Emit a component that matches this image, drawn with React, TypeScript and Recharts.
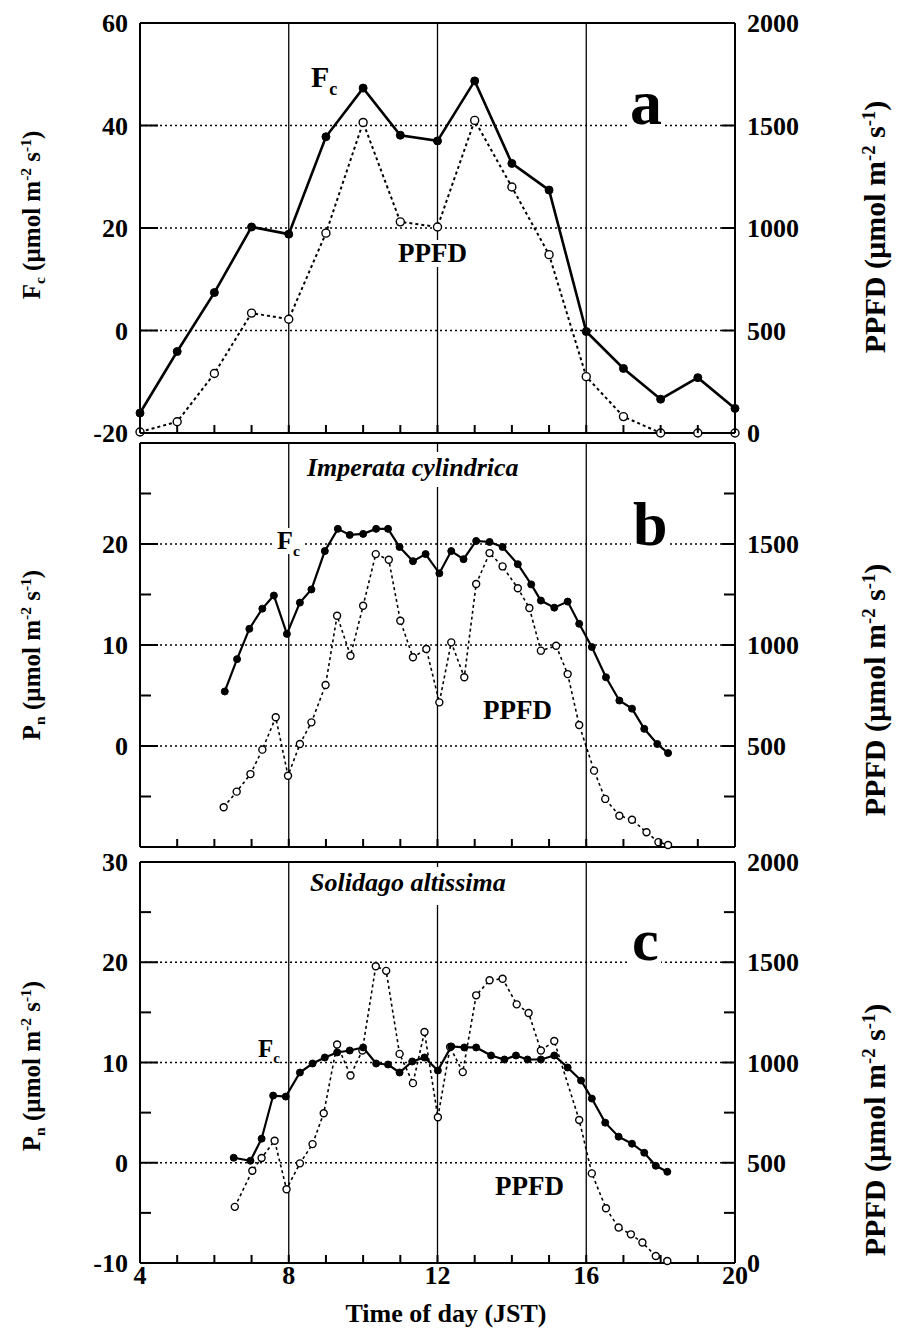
import { LineChart, Line, XAxis, YAxis, ReferenceLine } from 'recharts'

const W = 905
const H = 1334
const FONT = '"Liberation Serif", "Times New Roman", serif'

const HOURS = [4, 5, 6, 7, 8, 9, 10, 11, 12, 13, 14, 15, 16, 17, 18, 19, 20]
const HOUR_LABELS = [4, 8, 12, 16, 20]
const GRID_HOURS = [8, 12, 16]

// (a) canopy flux, hourly
const timeA = [4, 5, 6, 7, 8, 9, 10, 11, 12, 13, 14, 15, 16, 17, 18, 19, 20]
const fcA = [-16.1, -4.1, 7.4, 20.2, 18.8, 37.8, 47.3, 38.1, 37.0, 48.7, 32.6, 27.4, -0.2, -7.4, -13.4, -9.2, -15.2]
const ppfdA = [5, 55, 290, 585, 555, 975, 1515, 1030, 1005, 1525, 1200, 870, 275, 80, 0, 0, 0]

// (b) Imperata cylindrica
const timePnB = [6.28, 6.61, 6.94, 7.29, 7.6, 7.95, 8.3, 8.61, 8.97, 9.32, 9.64, 10.0, 10.35, 10.67, 10.98, 11.34, 11.68, 12.05, 12.37, 12.7, 13.04, 13.4, 13.75, 14.16, 14.52, 14.78, 15.14, 15.5, 15.81, 16.15, 16.53, 16.89, 17.23, 17.56, 17.91, 18.2]
const pnB = [5.4, 8.6, 11.6, 13.6, 14.9, 11.1, 14.2, 15.5, 19.3, 21.5, 20.9, 21.0, 21.5, 21.5, 19.7, 18.3, 19.0, 17.1, 19.3, 18.5, 20.3, 20.2, 19.7, 18.0, 16.0, 14.4, 13.7, 14.3, 12.1, 9.8, 6.8, 4.5, 3.7, 1.7, 0.2, -0.7]
const timePpfdB = [6.25, 6.6, 6.97, 7.29, 7.65, 7.98, 8.3, 8.61, 8.99, 9.3, 9.66, 10.0, 10.34, 10.69, 11.0, 11.34, 11.7, 12.05, 12.37, 12.72, 13.04, 13.4, 13.75, 14.16, 14.47, 14.78, 15.19, 15.5, 15.81, 16.21, 16.51, 16.89, 17.23, 17.62, 17.94, 18.2]
const ppfdB = [197, 274, 361, 482, 642, 353, 510, 617, 802, 1145, 947, 1194, 1450, 1422, 1120, 939, 980, 716, 1013, 840, 1302, 1455, 1389, 1281, 1183, 972, 996, 856, 604, 378, 238, 155, 135, 73, 24, 10]

// (c) Solidago altissima
const timePnC = [6.52, 6.97, 7.27, 7.58, 7.92, 8.3, 8.64, 8.97, 9.3, 9.64, 10.0, 10.35, 10.67, 10.98, 11.32, 11.65, 12.01, 12.37, 12.72, 13.04, 13.44, 13.8, 14.11, 14.42, 14.78, 15.14, 15.5, 15.86, 16.15, 16.51, 16.87, 17.23, 17.56, 17.87, 18.18]
const pnC = [0.5, 0.2, 2.4, 6.7, 6.6, 9.0, 9.9, 10.5, 11.0, 11.2, 11.5, 9.9, 9.8, 9.0, 10.1, 10.5, 9.2, 11.6, 11.5, 11.5, 10.7, 10.3, 10.7, 10.3, 10.3, 10.7, 9.5, 8.2, 6.4, 4.0, 2.6, 1.9, 1.0, -0.3, -0.9]
const timePpfdC = [6.55, 7.02, 7.27, 7.62, 7.94, 8.3, 8.64, 8.94, 9.3, 9.66, 9.98, 10.34, 10.62, 10.98, 11.34, 11.65, 12.01, 12.34, 12.68, 13.04, 13.4, 13.75, 14.13, 14.45, 14.78, 15.14, 15.81, 16.15, 16.53, 16.87, 17.2, 17.51, 17.87, 18.18]
const ppfdC = [280, 460, 524, 610, 368, 497, 593, 747, 1090, 935, 1060, 1480, 1457, 1043, 897, 1152, 727, 1077, 952, 1335, 1410, 1418, 1290, 1247, 1060, 1107, 713, 447, 273, 177, 143, 102, 35, 10]

type Pt = { t: number; v: number }
const zip = (t: number[], v: number[]): Pt[] => t.map((x, i) => ({ t: x, v: v[i] }))

const AXIS = { stroke: '#000', strokeWidth: 2 }

const tickText = {
  fontFamily: FONT,
  fontWeight: 'bold' as const,
  fontSize: 26,
  fill: '#000',
}

const leftTick = (labels: number[]) => (p: any) => {
  const v = p.payload.value
  const major = labels.includes(v)
  return (
    <g>
      <line x1={p.x} x2={p.x + (major ? 18 : 11)} y1={p.y} y2={p.y} stroke="#000" strokeWidth={2} />
      {major && (
        <text x={p.x - 12} y={p.y} dy="0.35em" textAnchor="end" {...tickText}>
          {v}
        </text>
      )}
    </g>
  )
}

const rightTick = (labels: number[]) => (p: any) => {
  const v = p.payload.value
  const major = labels.includes(v)
  return (
    <g>
      <line x1={p.x} x2={p.x - (major ? 13 : 11)} y1={p.y} y2={p.y} stroke="#000" strokeWidth={2} />
      {major && (
        <text x={p.x + 12} y={p.y} dy="0.35em" textAnchor="start" {...tickText}>
          {v}
        </text>
      )}
    </g>
  )
}

const bottomTick = (show: boolean) => (p: any) => {
  const v = p.payload.value
  return (
    <g>
      <line x1={p.x} x2={p.x} y1={p.y} y2={p.y - 8} stroke="#000" strokeWidth={2} />
      {show && HOUR_LABELS.includes(v) && (
        <text x={p.x} y={p.y + 21} textAnchor="middle" {...tickText}>
          {v}
        </text>
      )}
    </g>
  )
}

const topTick = (p: any) => (
  <line x1={p.x} x2={p.x} y1={p.y} y2={p.y + 8} stroke="#000" strokeWidth={2} />
)

interface PanelProps {
  top: number
  bottom: number
  leftDomain: [number, number]
  leftTicks: number[]
  leftLabels: number[]
  leftGrid: number[]
  rightTicks: number[]
  rightLabels: number[]
  fc: Pt[]
  ppfd: Pt[]
  xLabels: boolean
  fcWidth: number
  ppfdWidth: number
  dotR: number
}

function Panel(p: PanelProps) {
  // x axes get a 1px band so that Recharts still draws them
  return (
    <div style={{ position: 'absolute', left: 0, top: 0 }}>
      <LineChart width={W} height={H} margin={{ top: p.top - 1, right: 0, bottom: H - p.bottom - 1, left: 0 }}>
        <XAxis
          dataKey="t"
          type="number"
          domain={[4, 20]}
          ticks={HOURS}
          interval={0}
          height={1}
          tickSize={0}
          tickMargin={0}
          tickLine={false}
          axisLine={AXIS}
          tick={bottomTick(p.xLabels)}
        />
        <XAxis
          xAxisId="top"
          orientation="top"
          dataKey="t"
          type="number"
          domain={[4, 20]}
          ticks={HOURS}
          interval={0}
          height={1}
          tickSize={0}
          tickMargin={0}
          tickLine={false}
          axisLine={AXIS}
          tick={topTick}
        />
        <YAxis
          yAxisId="left"
          domain={p.leftDomain}
          ticks={p.leftTicks}
          interval={0}
          width={140}
          tickSize={0}
          tickMargin={0}
          tickLine={false}
          axisLine={AXIS}
          tick={leftTick(p.leftLabels)}
        />
        <YAxis
          yAxisId="right"
          orientation="right"
          domain={[0, 2000]}
          ticks={p.rightTicks}
          interval={0}
          width={170}
          tickSize={0}
          tickMargin={0}
          tickLine={false}
          axisLine={AXIS}
          tick={rightTick(p.rightLabels)}
        />
        {p.leftGrid.map((v) => (
          <ReferenceLine key={'h' + v} yAxisId="left" y={v} stroke="#000" strokeWidth={1.6} strokeDasharray="2 3" />
        ))}
        {GRID_HOURS.map((v) => (
          <ReferenceLine key={'v' + v} yAxisId="left" x={v} stroke="#000" strokeWidth={1.3} />
        ))}
        <Line
          yAxisId="right"
          data={p.ppfd}
          dataKey="v"
          stroke="#000"
          strokeWidth={p.ppfdWidth}
          strokeDasharray="3 3"
          dot={{ r: p.dotR, fill: '#fff', stroke: '#000', strokeWidth: 1.4, strokeDasharray: 'none' }}
          activeDot={false}
          isAnimationActive={false}
        />
        <Line
          yAxisId="left"
          data={p.fc}
          dataKey="v"
          stroke="#000"
          strokeWidth={p.fcWidth}
          dot={{ r: p.dotR, fill: '#000', stroke: '#000', strokeWidth: 1 }}
          activeDot={false}
          isAnimationActive={false}
        />
      </LineChart>
    </div>
  )
}

const supStyle = { fontSize: '0.62em', position: 'relative' as const, top: '-0.55em' }
const subStyle = { fontSize: '0.62em', position: 'relative' as const, top: '0.35em' }

function AxisTitle({ cx, cy, size, name, sub }: { cx: number; cy: number; size: number; name: string; sub?: string }) {
  return (
    <div
      style={{
        position: 'absolute',
        left: cx,
        top: cy,
        transform: 'translate(-50%, -50%) rotate(-90deg)',
        whiteSpace: 'nowrap',
        fontFamily: FONT,
        fontWeight: 'bold',
        fontSize: size,
        lineHeight: 1,
      }}
    >
      {name}
      {sub && <span style={subStyle}>{sub}</span>} (µmol m<span style={supStyle}>-2</span> s
      <span style={supStyle}>-1</span>)
    </div>
  )
}

function Note({
  left,
  top,
  size,
  italic = false,
  pad = '0 2px',
  children,
}: {
  left: number
  top: number
  size: number
  italic?: boolean
  pad?: string
  children: any
}) {
  return (
    <div
      style={{
        position: 'absolute',
        left,
        top,
        fontFamily: FONT,
        fontWeight: 'bold',
        fontStyle: italic ? 'italic' : 'normal',
        fontSize: size,
        lineHeight: 1,
        background: '#fff',
        padding: pad,
        whiteSpace: 'nowrap',
      }}
    >
      {children}
    </div>
  )
}

const Fc = () => (
  <>
    F<span style={{ fontSize: '0.6em', position: 'relative', top: '0.42em', background: '#fff' }}>c</span>
  </>
)

export default function App() {
  return (
    <div style={{ position: 'absolute', left: 0, top: 0, width: W, height: H, background: '#fff' }}>
      <Panel
        top={23}
        bottom={433}
        leftDomain={[-20, 60]}
        leftTicks={[-20, 0, 20, 40, 60]}
        leftLabels={[-20, 0, 20, 40, 60]}
        leftGrid={[0, 20, 40]}
        rightTicks={[0, 500, 1000, 1500, 2000]}
        rightLabels={[0, 500, 1000, 1500, 2000]}
        fc={zip(timeA, fcA)}
        ppfd={zip(timeA, ppfdA)}
        xLabels={false}
        fcWidth={2.6}
        ppfdWidth={2}
        dotR={4}
      />
      <Panel
        top={443}
        bottom={847}
        leftDomain={[-10, 30]}
        leftTicks={[-5, 0, 5, 10, 15, 20, 25]}
        leftLabels={[0, 10, 20]}
        leftGrid={[0, 10, 20]}
        rightTicks={[250, 500, 750, 1000, 1250, 1500, 1750]}
        rightLabels={[500, 1000, 1500]}
        fc={zip(timePnB, pnB)}
        ppfd={zip(timePpfdB, ppfdB)}
        xLabels={false}
        fcWidth={2.2}
        ppfdWidth={1.6}
        dotR={3.5}
      />
      <Panel
        top={862}
        bottom={1263}
        leftDomain={[-10, 30]}
        leftTicks={[-10, -5, 0, 5, 10, 15, 20, 25, 30]}
        leftLabels={[-10, 0, 10, 20, 30]}
        leftGrid={[0, 10, 20]}
        rightTicks={[0, 250, 500, 750, 1000, 1250, 1500, 1750, 2000]}
        rightLabels={[0, 500, 1000, 1500, 2000]}
        fc={zip(timePnC, pnC)}
        ppfd={zip(timePpfdC, ppfdC)}
        xLabels={true}
        fcWidth={2.2}
        ppfdWidth={1.6}
        dotR={3.5}
      />

      <AxisTitle cx={31} cy={215} size={25} name="F" sub="c" />
      <AxisTitle cx={31} cy={655} size={25} name="P" sub="n" />
      <AxisTitle cx={31} cy={1066} size={25} name="P" sub="n" />
      <AxisTitle cx={875} cy={227} size={30} name="PPFD" />
      <AxisTitle cx={875} cy={690} size={30} name="PPFD" />
      <AxisTitle cx={875} cy={1130} size={30} name="PPFD" />

      <Note left={309} top={62} size={30}>
        <Fc />
      </Note>
      <Note left={396} top={240} size={27}>
        PPFD
      </Note>
      <Note left={628} top={71} size={64}>
        a
      </Note>

      <Note left={303} top={452} size={26} italic pad="3px 4px 6px">
        Imperata cylindrica
      </Note>
      <Note left={275} top={528} size={26}>
        <Fc />
      </Note>
      <Note left={631} top={493} size={62}>
        b
      </Note>
      <Note left={481} top={697} size={27}>
        PPFD
      </Note>

      <Note left={306} top={867} size={26} italic pad="3px 4px 9px">
        Solidago altissima
      </Note>
      <Note left={256} top={1036} size={25}>
        <Fc />
      </Note>
      <Note left={630} top={910} size={60}>
        c
      </Note>
      <Note left={493} top={1173} size={27}>
        PPFD
      </Note>

      <div
        style={{
          position: 'absolute',
          left: 446,
          top: 1301,
          transform: 'translateX(-50%)',
          fontFamily: FONT,
          fontWeight: 'bold',
          fontSize: 26,
          lineHeight: 1,
          whiteSpace: 'nowrap',
        }}
      >
        Time of day (JST)
      </div>
    </div>
  )
}
